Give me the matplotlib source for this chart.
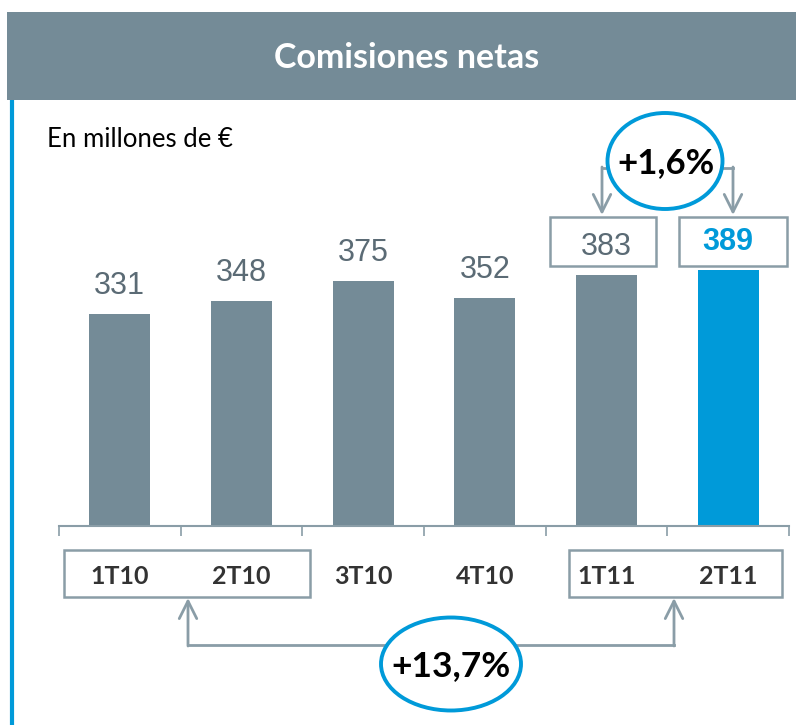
import matplotlib
matplotlib.use("Agg")
import matplotlib.pyplot as plt
from matplotlib.patches import Rectangle, Ellipse

categories = ["1T10", "2T10", "3T10", "4T10", "1T11", "2T11"]
values = [331, 348, 375, 352, 383, 389]
bar_colors = ["#748B97", "#748B97", "#748B97", "#748B97", "#748B97", "#009AD9"]
title = "Comisiones netas"
subtitle = "En millones de €"
change_qoq = "+1,6%"
change_yoy = "+13,7%"

GRAY = "#748B97"
BLUE = "#009AD9"
LINE = "#8A9DA7"
W, H = 796, 725

fig = plt.figure(figsize=(W / 100, H / 100), dpi=100)

# bar axes: baseline at y=526px, x from 59 to 789px
ax_left, ax_right = 59, 789
ax_bottom, ax_top = 526, 100
ax = fig.add_axes([ax_left / W, 1 - ax_bottom / H, (ax_right - ax_left) / W, (ax_bottom - ax_top) / H])
ax.patch.set_alpha(0)
ymin = 48
ymax = ymin + (ax_bottom - ax_top) / 0.75
ax.set_ylim(ymin, ymax)
ax.set_xlim(-0.5, len(categories) - 0.5)
x = list(range(len(categories)))
ax.bar(x, values, width=0.5, color=bar_colors, zorder=2)
for i, v in enumerate(values):
    if i == len(values) - 1:
        ax.text(i, v + 37, str(v), ha="center", va="center", fontsize=22, fontweight="bold",
                color=BLUE, family="Liberation Sans", zorder=5)
    else:
        ax.text(i, v + 37, str(v), ha="center", va="center", fontsize=22,
                color="#5B6B75", family="Liberation Sans", zorder=5)

for s in ["top", "left", "right"]:
    ax.spines[s].set_visible(False)
ax.spines["bottom"].set_color(LINE)
ax.spines["bottom"].set_linewidth(1.5)
ax.set_yticks([])
ax.set_xticks(x)
ax.set_xticklabels(categories, fontsize=18, fontweight="bold", color="#333333", family="Lato")
ax.set_xticks([i - 0.5 for i in range(len(categories) + 1)], minor=True)
ax.tick_params(axis="x", which="major", length=0, pad=28)
ax.tick_params(axis="x", which="minor", length=7, width=1.2, color=LINE, direction="out")

# overlay axes in pixel coordinates for decorations
ov = fig.add_axes([0, 0, 1, 1])
ov.set_xlim(0, W)
ov.set_ylim(H, 0)
ov.axis("off")
ov.patch.set_alpha(0)

ov.add_patch(Rectangle((7, 12), W - 7, 88, facecolor=GRAY, edgecolor="none"))
ov.text(407, 58, title, ha="center", va="center", fontsize=24.5, fontweight="bold",
        color="white", family="Lato")
ov.plot([12, 12], [100, H], color=BLUE, lw=3, solid_capstyle="butt")
ov.text(47, 139, subtitle, ha="left", va="center", fontsize=18.5, color="black", family="Lato")

# value boxes for the last two quarters
ov.add_patch(Rectangle((550, 217), 106, 49, facecolor="none", edgecolor=LINE, lw=1.8))
ov.add_patch(Rectangle((679, 217), 108, 49, facecolor="none", edgecolor=LINE, lw=1.8))

# category boxes
ov.add_patch(Rectangle((64, 550), 246, 47, facecolor="none", edgecolor=LINE, lw=1.8))
ov.add_patch(Rectangle((569, 550), 213, 47, facecolor="none", edgecolor=LINE, lw=1.8))

arrow_kw = dict(arrowstyle="->,head_length=0.9,head_width=0.45", color=LINE, lw=2,
                shrinkA=0, shrinkB=0, mutation_scale=14)

# top arrows
ov.plot([608, 602], [168, 168], color=LINE, lw=2)
ov.annotate("", xy=(602, 215), xytext=(602, 167), arrowprops=arrow_kw)
ov.plot([723, 733], [168, 168], color=LINE, lw=2)
ov.annotate("", xy=(733, 215), xytext=(733, 167), arrowprops=arrow_kw)
ov.add_patch(Ellipse((665, 161), 115, 96, facecolor="white", edgecolor=BLUE, lw=2.8, zorder=4))
ov.text(666, 163, change_qoq, ha="center", va="center", fontsize=25, fontweight="bold",
        color="black", family="Lato", zorder=5)

# bottom arrows
ov.plot([188, 674], [645, 645], color=LINE, lw=2)
ov.annotate("", xy=(188, 598), xytext=(188, 646), arrowprops=arrow_kw)
ov.annotate("", xy=(674, 598), xytext=(674, 646), arrowprops=arrow_kw)
ov.add_patch(Ellipse((451, 664), 140, 93, facecolor="white", edgecolor=BLUE, lw=2.8, zorder=4))
ov.text(451, 666, change_yoy, ha="center", va="center", fontsize=25.5, fontweight="bold",
        color="black", family="Lato", zorder=5)

fig.savefig("out.png", dpi=100)
